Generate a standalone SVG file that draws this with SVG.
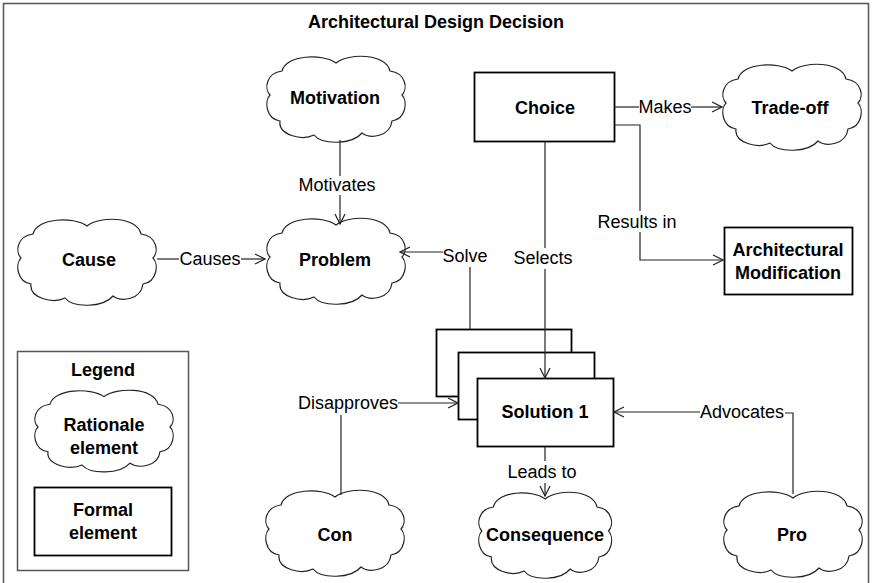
<svg xmlns="http://www.w3.org/2000/svg" xmlns:xlink="http://www.w3.org/1999/xlink" width="872" height="583" viewBox="0 0 872 583">
  <style>
    .frame { fill: none; stroke: #555; stroke-width: 1.5; }
    .cloud { fill: #fff; stroke: #222; stroke-width: 1.2; }
    .box { fill: #fff; stroke: #000; stroke-width: 1.8; }
    .title { font-family: "Liberation Sans", Arial, sans-serif; font-size: 18px; font-weight: bold; text-anchor: middle; fill: #000; }
    .name { font-family: "Liberation Sans", Arial, sans-serif; font-size: 18px; font-weight: bold; text-anchor: middle; fill: #000; }
    .label { font-family: "Liberation Sans", Arial, sans-serif; font-size: 18px; text-anchor: middle; fill: #000; }
    .edge { fill: none; stroke: #222; stroke-width: 1.2; }
    .arrow { fill: none; stroke: #222; stroke-width: 1.2; marker-end: url(#open); }
  </style>
  <defs>
    <!-- cloud outline in a 140 x 86 local box -->
    <path id="cloudShape" class="cloud" d="M 16,16 C 20,0 56,-2 70,8 C 82,-2 120,-2 124,16 C 140,18 142,34 136,40 C 142,46 140,64 126,66 C 124,82 104,84 96,78 C 86,90 56,90 48,80 C 36,86 12,80 14,66 C 0,64 -2,46 4,40 C -2,34 0,18 16,16 Z"/>
    <marker id="open" viewBox="0 0 12 12" refX="11" refY="6" markerWidth="12" markerHeight="12" markerUnits="userSpaceOnUse" orient="auto">
      <path d="M1,1 L11,6 L1,11" fill="none" stroke="#222" stroke-width="1.2"/>
    </marker>
  </defs>

  <!-- outer frame, open at the bottom -->
  <rect class="frame" x="3.5" y="3.5" width="865" height="600"/>
  <text class="title" x="436" y="28">Architectural Design Decision</text>

  <!-- legend -->
  <g id="legend">
    <rect class="frame" x="17.5" y="351.5" width="171" height="219"/>
    <text class="name" x="103" y="376">Legend</text>
    <use xlink:href="#cloudShape" transform="translate(34,389) scale(1,0.95)"/>
    <text class="name" x="104" y="431">Rationale</text>
    <text class="name" x="104" y="454">element</text>
    <rect class="box" x="34.5" y="487.5" width="137" height="68"/>
    <text class="name" x="103" y="516">Formal</text>
    <text class="name" x="103" y="539">element</text>
  </g>

  <!-- rationale elements -->
  <g id="motivation">
    <use xlink:href="#cloudShape" transform="translate(266,55)"/>
    <text class="name" x="335" y="104">Motivation</text>
  </g>
  <g id="cause">
    <use xlink:href="#cloudShape" transform="translate(17,218)"/>
    <text class="name" x="89" y="266">Cause</text>
  </g>
  <g id="problem">
    <use xlink:href="#cloudShape" transform="translate(266,217)"/>
    <text class="name" x="335" y="266">Problem</text>
  </g>
  <g id="tradeoff">
    <use xlink:href="#cloudShape" transform="translate(722,63)"/>
    <text class="name" x="790" y="114">Trade-off</text>
  </g>
  <g id="con">
    <use xlink:href="#cloudShape" transform="translate(265,489)"/>
    <text class="name" x="335" y="541">Con</text>
  </g>
  <g id="consequence">
    <use xlink:href="#cloudShape" transform="translate(478,491) scale(0.96,1)"/>
    <text class="name" x="545" y="541">Consequence</text>
  </g>
  <g id="pro">
    <use xlink:href="#cloudShape" transform="translate(723,490)"/>
    <text class="name" x="792" y="541">Pro</text>
  </g>

  <!-- formal elements -->
  <g id="choice">
    <rect class="box" x="474.5" y="72.5" width="140" height="69"/>
    <text class="name" x="545" y="114">Choice</text>
  </g>
  <g id="modification">
    <rect class="box" x="724.5" y="227.5" width="128" height="67"/>
    <text class="name" x="788" y="256">Architectural</text>
    <text class="name" x="788" y="279">Modification</text>
  </g>
  <g id="solutions">
    <rect class="box" x="436.5" y="329.5" width="135" height="67"/>
    <rect class="box" x="458.5" y="352.5" width="136" height="67"/>
    <rect class="box" x="477.5" y="378.5" width="136" height="68"/>
    <text class="name" x="545" y="418">Solution 1</text>
  </g>

  <!-- connectors -->
  <g id="connectors">
    <line class="edge" x1="340" y1="140" x2="340" y2="176"/>
    <text class="label" x="337" y="191">Motivates</text>
    <line class="arrow" x1="340" y1="195" x2="340" y2="224"/>

    <line class="edge" x1="157" y1="259" x2="179" y2="259"/>
    <text class="label" x="210" y="265">Causes</text>
    <line class="arrow" x1="241" y1="259" x2="265" y2="259"/>

    <polyline class="edge" points="470,329 470,267"/>
    <text class="label" x="465" y="262">Solve</text>
    <line class="arrow" x1="443" y1="252" x2="400" y2="252"/>

    <line class="edge" x1="545" y1="142" x2="545" y2="248"/>
    <text class="label" x="543" y="264">Selects</text>
    <line class="arrow" x1="545" y1="269" x2="545" y2="378"/>

    <line class="edge" x1="615" y1="107" x2="639" y2="107"/>
    <text class="label" x="665" y="113">Makes</text>
    <line class="arrow" x1="691" y1="107" x2="722" y2="107"/>

    <polyline class="edge" points="615,125 640,125 640,211"/>
    <text class="label" x="637" y="228">Results in</text>
    <polyline class="arrow" points="640,232 640,260 723,260"/>

    <text class="label" x="348" y="409">Disapproves</text>
    <line class="arrow" x1="398" y1="403" x2="458" y2="403"/>
    <line class="edge" x1="341" y1="415" x2="341" y2="495"/>

    <line class="edge" x1="545" y1="447" x2="545" y2="461"/>
    <text class="label" x="542" y="478">Leads to</text>
    <line class="arrow" x1="545" y1="483" x2="545" y2="496"/>

    <polyline class="edge" points="793,494 793,413 785,413"/>
    <text class="label" x="742" y="418">Advocates</text>
    <line class="arrow" x1="700" y1="412" x2="614" y2="412"/>
  </g>
</svg>
